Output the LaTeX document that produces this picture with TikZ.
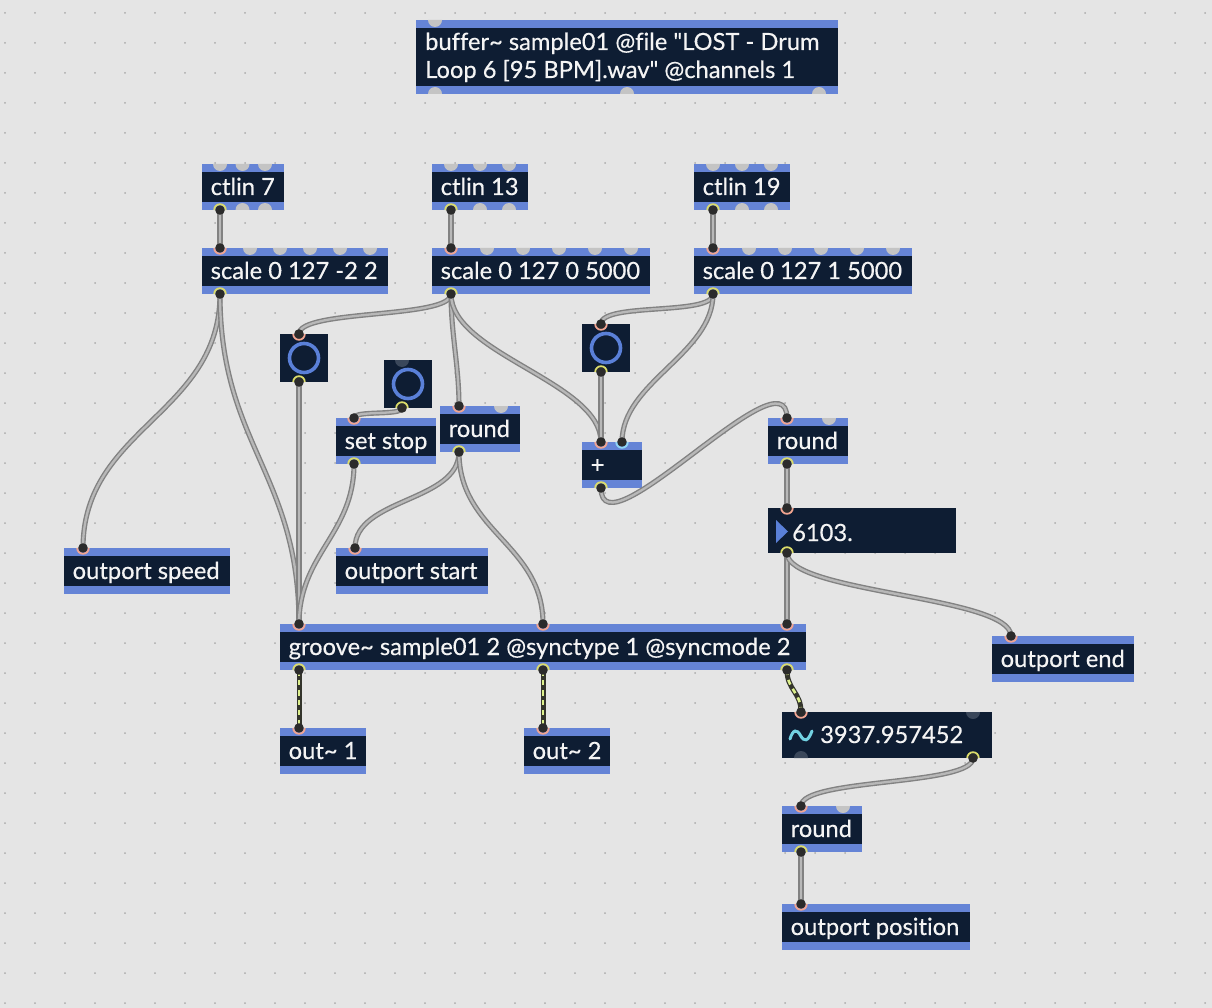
\documentclass[tikz,border=0pt]{standalone}
\usepackage{fontspec}
\newfontfamily\lato{Lato}[Ligatures=CommonOff,FakeBold=0.4]
\definecolor{bgc}{HTML}{E5E5E5}
\definecolor{dotc}{HTML}{ABABAB}
\definecolor{bandc}{HTML}{6584D6}
\definecolor{bodyc}{HTML}{0E1D33}
\definecolor{txtc}{HTML}{F4F4F4}
\definecolor{ptgray}{HTML}{C4C4C4}
\definecolor{ptdark}{HTML}{3A475A}
\definecolor{ptdk}{HTML}{2B2B2B}
\definecolor{ringin}{HTML}{F2A590}
\definecolor{ringout}{HTML}{DCDC6A}
\definecolor{ringcold}{HTML}{8FD6F2}
\definecolor{cordo}{HTML}{828282}
\definecolor{cordi}{HTML}{B8B8B8}
\definecolor{sigd}{HTML}{34352C}
\definecolor{sigl}{HTML}{DDF08C}
\definecolor{togc}{HTML}{5A80D8}
\definecolor{tildec}{HTML}{72D2E2}
\newcommand\mxobj[6]{%
  \pgfmathsetmacro\mxw{#4-#2}\pgfmathsetmacro\mxh{#5-#3}%
  \node[objbody,minimum width=\mxw pt,minimum height=\mxh pt] (#1) at (#2,#3) {};
  \fill[bandc] (#1.north west) rectangle ([yshift=-8pt]#1.north east);
  \fill[bandc] ([yshift=8pt]#1.south west) rectangle (#1.south east);
  \pgfmathsetmacro\mxtx{#2+8.5}\pgfmathsetmacro\mxty{#3+31}%
  \node[objtext] (#1-t) at (\mxtx,\mxty) {#6};
}
\newcommand\mxtog[3]{%
  \node[objbody,minimum width=48pt,minimum height=48pt] (#1) at (#2,#3) {};
  \draw[togc,line width=3.6pt] (#1.center) circle[radius=14.5pt];
}
\newcommand\mxgin[2]{\fill[#2] ([xshift=-7pt]#1) arc[start angle=180,end angle=360,radius=7pt] -- cycle;}
\newcommand\mxgout[2]{\fill[#2] ([xshift=-7pt]#1) arc[start angle=180,end angle=0,radius=7pt] -- cycle;}
\newcommand\mxin[2]{\fill[ptdk] (#1) circle[radius=4.8pt];
  \draw[#2,line width=1.8pt] ([xshift=-5.8pt]#1) arc[start angle=180,end angle=360,radius=5.8pt];}
\newcommand\mxout[1]{\fill[ptdk] (#1) circle[radius=4.8pt];
  \draw[ringout,line width=1.8pt] ([xshift=-5.8pt]#1) arc[start angle=180,end angle=0,radius=5.8pt];}
\newcommand\mxcord[3]{\draw[cordst] (#1) .. controls ([yshift=-#3pt]#1) and ([yshift=#3pt]#2) .. (#2);}
\newcommand\mxsig[3]{\draw[sigdk] (#1) .. controls ([yshift=-#3pt]#1) and ([yshift=#3pt]#2) .. (#2);
  \draw[siglt] (#1) .. controls ([yshift=-#3pt]#1) and ([yshift=#3pt]#2) .. (#2);}
\begin{document}
\begin{tikzpicture}[x=1pt,y=-1pt,
  objbody/.style={fill=bodyc,inner sep=0pt,outer sep=0pt,anchor=north west,draw=none},
  objtext/.style={text=txtc,inner sep=0pt,anchor=base west,font=\lato\fontsize{23.7}{28}\selectfont},
  cordst/.style={draw=cordo,line width=1.4pt,double=cordi,double distance=2.3pt},
  sigdk/.style={draw=sigd,line width=5pt},
  siglt/.style={draw=sigl,line width=2.6pt,dash pattern=on 5pt off 5pt}]
\useasboundingbox (0,0) rectangle (1212,1008);
\fill[bgc] (0,0) rectangle (1212,1008);
\foreach \i in {0,...,40} \foreach \j in {0,...,33} \fill[dotc] (5+30*\i,13+30*\j) circle[radius=1pt];

% buffer
\node[objbody,minimum width=422pt,minimum height=74pt] (buffer) at (416,20) {};
\fill[bandc] (buffer.north west) rectangle ([yshift=-8pt]buffer.north east);
\fill[bandc] ([yshift=8pt]buffer.south west) rectangle (buffer.south east);
\node[objtext] (buffer-t1) at (425,50) {buffer\string~ sample01 @file "LOST - Drum};
\node[objtext] (buffer-t2) at (425,78) {Loop 6 [95 BPM].wav" @channels 1};

\mxobj{ctlinA}{202}{164}{284}{210}{ctlin 7}
\mxobj{ctlinB}{432}{164}{528}{210}{ctlin 13}
\mxobj{ctlinC}{694}{164}{790}{210}{ctlin 19}
\mxobj{scaleA}{202}{248}{388}{294}{scale 0 127 -2 2}
\mxobj{scaleB}{432}{248}{650}{294}{scale 0 127 0 5000}
\mxobj{scaleC}{694}{248}{912}{294}{scale 0 127 1 5000}
\mxobj{setstop}{336}{418}{436}{464}{set stop}
\mxobj{roundA}{440}{406}{520}{452}{round}
\mxobj{plus}{582}{442}{642}{488}{+}
\mxobj{roundB}{768}{418}{848}{464}{round}
\mxobj{speed}{64}{548}{230}{594}{outport speed}
\mxobj{start}{336}{548}{488}{594}{outport start}
\mxobj{groove}{280}{624}{806}{670}{groove\string~ sample01 2 @synctype 1 @syncmode 2}
\mxobj{endp}{992}{636}{1134}{682}{outport end}
\mxobj{outA}{280}{728}{366}{774}{out\string~ 1}
\mxobj{outB}{524}{728}{610}{774}{out\string~ 2}
\mxobj{roundC}{782}{806}{862}{852}{round}
\mxobj{pos}{782}{904}{970}{950}{outport position}

\mxtog{togA}{280}{334}
\mxtog{togB}{384}{360}
\mxtog{togC}{582}{324}

% number box
\node[objbody,minimum width=188pt,minimum height=45pt] (num) at (768,508) {};
\fill[togc] (776,520) -- (788,531.5) -- (776,543) -- cycle;
\node[objtext] (num-t) at (792,541) {6103.};

% signal number box
\node[objbody,minimum width=210pt,minimum height=46pt] (sig) at (782,712) {};
\draw[tildec,line width=3pt,line cap=round] (790,739) .. controls (793,729) and (797,729) .. (800.5,735.5) .. controls (804,742) and (808,742) .. (812,731);
\node[objtext] (sig-t) at (820,743) {3937.957452};

% unconnected ports
\mxgin{435,20}{ptgray}
\foreach \x in {435,627,819} {\mxgout{\x,94}{ptgray}}
\foreach \x in {220,242.5,265} {\mxgin{\x,164}{ptgray}}
\foreach \x in {242.5,265} {\mxgout{\x,210}{ptgray}}
\foreach \x in {451,480,509} {\mxgin{\x,164}{ptgray}}
\foreach \x in {480,509} {\mxgout{\x,210}{ptgray}}
\foreach \x in {713,742,771} {\mxgin{\x,164}{ptgray}}
\foreach \x in {742,771} {\mxgout{\x,210}{ptgray}}
\foreach \x in {250,280,310,340,370} {\mxgin{\x,248}{ptgray}}
\foreach \x in {487,523,559,595,631} {\mxgin{\x,248}{ptgray}}
\foreach \x in {749,785,821,857,893} {\mxgin{\x,248}{ptgray}}
\mxgin{402,360}{ptdark}
\mxgin{501,406}{ptgray}
\mxgin{829,418}{ptgray}
\mxgin{843,806}{ptgray}
\mxgin{973,712}{ptdark}
\mxgout{801,758}{ptdark}

% connected port coordinates
\coordinate (ctlinA-o) at (220,210); \coordinate (scaleA-i) at (220,248); \coordinate (scaleA-o) at (220,294);
\coordinate (ctlinB-o) at (451,210); \coordinate (scaleB-i) at (451,248); \coordinate (scaleB-o) at (451,294);
\coordinate (ctlinC-o) at (713,210); \coordinate (scaleC-i) at (713,248); \coordinate (scaleC-o) at (713,294);
\coordinate (togA-i) at (299,334); \coordinate (togA-o) at (299,382);
\coordinate (togB-o) at (402,408);
\coordinate (togC-i) at (601,324); \coordinate (togC-o) at (601,372);
\coordinate (setstop-i) at (354,418); \coordinate (setstop-o) at (354,464);
\coordinate (roundA-i) at (459,406); \coordinate (roundA-o) at (459,452);
\coordinate (plus-i1) at (601,442); \coordinate (plus-i2) at (622,442); \coordinate (plus-o) at (601,488);
\coordinate (roundB-i) at (787,418); \coordinate (roundB-o) at (787,464);
\coordinate (num-i) at (787,508); \coordinate (num-o) at (787,553);
\coordinate (speed-i) at (83,548); \coordinate (start-i) at (355,548);
\coordinate (groove-i1) at (299,624); \coordinate (groove-i2) at (543,624); \coordinate (groove-i3) at (787,624);
\coordinate (groove-o1) at (299,670); \coordinate (groove-o2) at (543,670); \coordinate (groove-o3) at (787,670);
\coordinate (endp-i) at (1011,636);
\coordinate (outA-i) at (299,728); \coordinate (outB-i) at (543,728);
\coordinate (sig-i) at (801,712); \coordinate (sig-o) at (973,758);
\coordinate (roundC-i) at (801,806); \coordinate (roundC-o) at (801,852);
\coordinate (pos-i) at (801,904);

% cords
\mxcord{ctlinA-o}{scaleA-i}{10}
\mxcord{ctlinB-o}{scaleB-i}{10}
\mxcord{ctlinC-o}{scaleC-i}{10}
\mxcord{scaleA-o}{speed-i}{120}
\mxcord{scaleA-o}{groove-i1}{150}
\mxcord{scaleB-o}{togA-i}{25}
\mxcord{scaleB-o}{roundA-i}{40}
\mxcord{scaleB-o}{plus-i1}{60}
\mxcord{scaleC-o}{togC-i}{22}
\mxcord{scaleC-o}{plus-i2}{60}
\mxcord{togA-o}{groove-i1}{20}
\mxcord{togB-o}{setstop-i}{8}
\mxcord{setstop-o}{groove-i1}{70}
\mxcord{roundA-o}{start-i}{50}
\mxcord{roundA-o}{groove-i2}{80}
\mxcord{togC-o}{plus-i1}{10}
\mxcord{plus-o}{roundB-i}{70}
\mxcord{roundB-o}{num-i}{10}
\mxcord{num-o}{groove-i3}{10}
\mxcord{num-o}{endp-i}{40}
\mxsig{groove-o1}{outA-i}{10}
\mxsig{groove-o2}{outB-i}{10}
\mxsig{groove-o3}{sig-i}{20}
\mxcord{sig-o}{roundC-i}{28}
\mxcord{roundC-o}{pos-i}{10}

% connected port marks
\foreach \p in {scaleA-i,scaleB-i,scaleC-i,togA-i,togC-i,setstop-i,roundA-i,plus-i1,roundB-i,num-i,speed-i,start-i,groove-i1,groove-i2,groove-i3,endp-i,outA-i,outB-i,sig-i,roundC-i,pos-i} {\mxin{\p}{ringin}}
\mxin{plus-i2}{ringcold}
\foreach \p in {ctlinA-o,ctlinB-o,ctlinC-o,scaleA-o,scaleB-o,scaleC-o,togA-o,togB-o,togC-o,setstop-o,roundA-o,plus-o,roundB-o,num-o,groove-o1,groove-o2,groove-o3,sig-o,roundC-o} {\mxout{\p}}
\end{tikzpicture}
\end{document}
